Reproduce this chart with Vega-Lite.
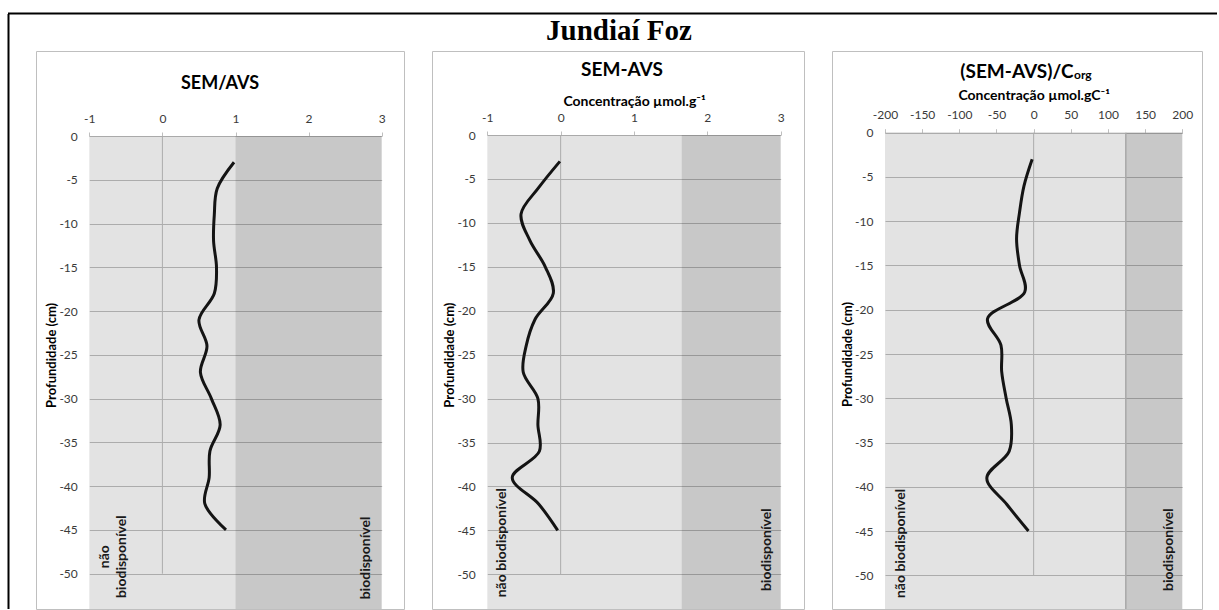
{
  "$schema": "https://vega.github.io/schema/vega-lite/v6.json",
  "background": "white",
  "padding": {"left": 7, "top": 12, "right": 0, "bottom": 0},
  "datasets": {
    "sem_avs": [
      {"profundidade": -3, "valor": 0.98}, {"profundidade": -6, "valor": 0.75}, {"profundidade": -9, "valor": 0.71},
      {"profundidade": -12, "valor": 0.70}, {"profundidade": -15, "valor": 0.74}, {"profundidade": -18, "valor": 0.71},
      {"profundidade": -21, "valor": 0.50}, {"profundidade": -24, "valor": 0.61}, {"profundidade": -27, "valor": 0.52},
      {"profundidade": -30, "valor": 0.67}, {"profundidade": -33, "valor": 0.79}, {"profundidade": -36, "valor": 0.65},
      {"profundidade": -39, "valor": 0.64}, {"profundidade": -42, "valor": 0.58}, {"profundidade": -45, "valor": 0.87}
    ],
    "sem_menos_avs": [
      {"profundidade": -3, "valor": -0.01}, {"profundidade": -6, "valor": -0.30}, {"profundidade": -9, "valor": -0.54},
      {"profundidade": -12, "valor": -0.42}, {"profundidade": -15, "valor": -0.21}, {"profundidade": -18, "valor": -0.10},
      {"profundidade": -21, "valor": -0.35}, {"profundidade": -24, "valor": -0.47}, {"profundidade": -27, "valor": -0.51},
      {"profundidade": -30, "valor": -0.31}, {"profundidade": -33, "valor": -0.31}, {"profundidade": -36, "valor": -0.29},
      {"profundidade": -39, "valor": -0.66}, {"profundidade": -42, "valor": -0.30}, {"profundidade": -45, "valor": -0.04}
    ],
    "sem_avs_corg": [
      {"profundidade": -3, "valor": -2}, {"profundidade": -6, "valor": -13}, {"profundidade": -9, "valor": -19},
      {"profundidade": -12, "valor": -23}, {"profundidade": -15, "valor": -19}, {"profundidade": -18, "valor": -12},
      {"profundidade": -21, "valor": -62}, {"profundidade": -24, "valor": -44}, {"profundidade": -27, "valor": -43},
      {"profundidade": -30, "valor": -37}, {"profundidade": -33, "valor": -30}, {"profundidade": -36, "valor": -33},
      {"profundidade": -39, "valor": -63}, {"profundidade": -42, "valor": -36}, {"profundidade": -45, "valor": -7}
    ],
    "zonas_sem_avs": [
      {"zona": "não biodisponível", "inicio": -1, "fim": 1},
      {"zona": "biodisponível", "inicio": 1, "fim": 3}
    ],
    "zonas_sem_menos_avs": [
      {"zona": "não biodisponível", "inicio": -1, "fim": 1.65},
      {"zona": "biodisponível", "inicio": 1.65, "fim": 3}
    ],
    "zonas_sem_avs_corg": [
      {"zona": "não biodisponível", "inicio": -200, "fim": 124},
      {"zona": "biodisponível", "inicio": 124, "fim": 200}
    ]
  },
  "bounds": "flush",
  "spacing": 0,
  "vconcat": [
    {
      "width": 1209, "height": 1,
      "view": {"stroke": null},
      "data": {"values": [{}]},
      "mark": {"type": "rule", "color": "#000000", "strokeWidth": 2},
      "encoding": {"y": {"datum": 0.5, "scale": {"domain": [0, 1]}, "axis": null}}
    },
    {
      "bounds": "flush",
      "spacing": 27,
      "hconcat": [
        {
          "width": 1, "height": 595,
          "view": {"stroke": null},
          "data": {"values": [{}]},
          "mark": {"type": "rule", "color": "#000000", "strokeWidth": 2},
          "encoding": {"x": {"datum": 0.5, "scale": {"domain": [0, 1]}, "axis": null}}
        },
        {
          "bounds": "flush",
          "spacing": 0,
          "vconcat": [
            {
              "width": 1166, "height": 36.5,
              "view": {"stroke": null},
              "data": {"values": [{"titulo": "Jundiaí Foz"}]},
              "mark": {"type": "text", "font": "Liberation Serif", "fontSize": 29, "fontWeight": "bold", "color": "#000000", "baseline": "alphabetic", "align": "center", "dy": 7.5},
              "encoding": {"text": {"field": "titulo"}}
            },
            {
              "bounds": "flush",
              "spacing": 28,
              "hconcat": [
                {
                  "width": 368, "height": 558,
                  "title": {"text": "SEM/AVS", "font": "Lato", "fontSize": 18, "fontWeight": "bold", "color": "#000000", "baseline": "alphabetic", "anchor": "middle", "offset": -56},
                  "layer": [
                    {
                      "data": {"values": [{}]},
                      "mark": {"type": "rule", "color": "#c2c2c2", "strokeWidth": 1},
                      "encoding": {"x": {"datum": 0}, "y": {"datum": 0}, "y2": {"datum": -50}}
                    },
                    {
                      "data": {"name": "zonas_sem_avs"},
                      "mark": {"type": "rect", "clip": true},
                      "encoding": {
                        "x": {"field": "inicio", "type": "quantitative"},
                        "x2": {"field": "fim"},
                        "y": {"datum": 0},
                        "y2": {"datum": -60},
                        "fill": {"field": "zona", "type": "nominal", "legend": null,
                                 "scale": {"domain": ["não biodisponível", "biodisponível"], "range": ["rgba(0,0,0,0.11)", "rgba(0,0,0,0.215)"]}}
                      }
                    },
                    {
                      "data": {"name": "sem_avs"},
                      "mark": {"type": "line", "color": "#141414", "strokeWidth": 3, "interpolate": "catmull-rom"},
                      "encoding": {
                        "x": {"field": "valor", "type": "quantitative",
                              "scale": {"domain": [-1, 3], "range": [53.3, 345.7], "nice": false, "zero": false},
                              "axis": {"orient": "top", "offset": -85, "values": [-1, 0, 1, 2, 3], "labelExpr": "'' + datum.value", "grid": false, "domainColor": "#bfbfbf", "tickColor": "#bfbfbf", "tickSize": 4, "labelPadding": 7, "labelFlush": false, "labelOverlap": false, "title": null}},
                        "y": {"field": "profundidade", "type": "quantitative",
                              "scale": {"domain": [-50, 0], "range": [522.7, 85], "nice": false, "zero": false},
                              "axis": {"orient": "left", "offset": -53.3, "values": [0, -5, -10, -15, -20, -25, -30, -35, -40, -45, -50], "labelExpr": "'' + datum.value", "grid": true, "gridColor": "#c2c2c2", "domain": false, "ticks": false, "labelPadding": 12, "labelOverlap": false, "title": "Profundidade (cm)", "titlePadding": 0}},
                        "order": {"field": "profundidade", "type": "quantitative"}
                      }
                    },
                    {
                      "data": {"values": [{}]},
                      "mark": {"type": "text", "text": ["não", "biodisponível"], "angle": 270, "align": "center", "baseline": "middle", "lineHeight": 17, "font": "Lato", "fontSize": 14, "fontWeight": "bold", "color": "#1a1a1a"},
                      "encoding": {"x": {"datum": -0.785}, "y": {"datum": -48.06}}
                    },
                    {
                      "data": {"values": [{}]},
                      "mark": {"type": "text", "text": "biodisponível", "angle": 270, "align": "center", "baseline": "middle", "font": "Lato", "fontSize": 14, "fontWeight": "bold", "color": "#1a1a1a"},
                      "encoding": {"x": {"datum": 2.78}, "y": {"datum": -48.2}}
                    }
                  ]
                },
                {
                  "width": 372, "height": 558,
                  "title": {"text": "SEM-AVS", "font": "Lato", "fontSize": 19, "fontWeight": "bold", "color": "#000000", "baseline": "alphabetic", "anchor": "middle", "offset": -44, "dx": 4},
                  "layer": [
                    {
                      "data": {"values": [{}]},
                      "mark": {"type": "rule", "color": "#c2c2c2", "strokeWidth": 1},
                      "encoding": {"x": {"datum": 0}, "y": {"datum": 0}, "y2": {"datum": -50}}
                    },
                    {
                      "data": {"name": "zonas_sem_menos_avs"},
                      "mark": {"type": "rect", "clip": true},
                      "encoding": {
                        "x": {"field": "inicio", "type": "quantitative"},
                        "x2": {"field": "fim"},
                        "y": {"datum": 0},
                        "y2": {"datum": -60},
                        "fill": {"field": "zona", "type": "nominal", "legend": null,
                                 "scale": {"domain": ["não biodisponível", "biodisponível"], "range": ["rgba(0,0,0,0.11)", "rgba(0,0,0,0.215)"]}}
                      }
                    },
                    {
                      "data": {"name": "sem_menos_avs"},
                      "mark": {"type": "line", "color": "#141414", "strokeWidth": 3, "interpolate": "catmull-rom"},
                      "encoding": {
                        "x": {"field": "valor", "type": "quantitative",
                              "scale": {"domain": [-1, 3], "range": [55.3, 348.7], "nice": false, "zero": false},
                              "axis": {"orient": "top", "offset": -84, "values": [-1, 0, 1, 2, 3], "labelExpr": "'' + datum.value", "grid": false, "domainColor": "#bfbfbf", "tickColor": "#bfbfbf", "tickSize": 4, "labelPadding": 7, "labelFlush": false, "labelOverlap": false, "title": "Concentração µmol.g⁻¹", "titleFontSize": 14, "titleY": -30, "titleBaseline": "alphabetic"}},
                        "y": {"field": "profundidade", "type": "quantitative",
                              "scale": {"domain": [-50, 0], "range": [523.3, 84], "nice": false, "zero": false},
                              "axis": {"orient": "left", "offset": -55.3, "values": [0, -5, -10, -15, -20, -25, -30, -35, -40, -45, -50], "labelExpr": "'' + datum.value", "grid": true, "gridColor": "#c2c2c2", "domain": false, "ticks": false, "labelPadding": 12, "labelOverlap": false, "title": "Profundidade (cm)", "titlePadding": 0}},
                        "order": {"field": "profundidade", "type": "quantitative"}
                      }
                    },
                    {
                      "data": {"values": [{}]},
                      "mark": {"type": "text", "text": "não biodisponível", "angle": 270, "align": "center", "baseline": "middle", "font": "Lato", "fontSize": 14, "fontWeight": "bold", "color": "#1a1a1a"},
                      "encoding": {"x": {"datum": -0.80}, "y": {"datum": -46.4}}
                    },
                    {
                      "data": {"values": [{}]},
                      "mark": {"type": "text", "text": "biodisponível", "angle": 270, "align": "center", "baseline": "middle", "font": "Lato", "fontSize": 14, "fontWeight": "bold", "color": "#1a1a1a"},
                      "encoding": {"x": {"datum": 2.81}, "y": {"datum": -47.2}}
                    }
                  ]
                },
                {
                  "width": 370, "height": 558,
                  "title": {"text": "(SEM-AVS)/C", "font": "Lato", "fontSize": 19, "fontWeight": "bold", "color": "#000000", "baseline": "alphabetic", "anchor": "middle", "offset": -46},
                  "layer": [
                    {
                      "data": {"values": [{}]},
                      "mark": {"type": "rule", "color": "#c2c2c2", "strokeWidth": 1},
                      "encoding": {"x": {"datum": 0}, "y": {"datum": 0}, "y2": {"datum": -50}}
                    },
                    {
                      "data": {"name": "zonas_sem_avs_corg"},
                      "mark": {"type": "rect", "clip": true},
                      "encoding": {
                        "x": {"field": "inicio", "type": "quantitative"},
                        "x2": {"field": "fim"},
                        "y": {"datum": 0},
                        "y2": {"datum": -60},
                        "fill": {"field": "zona", "type": "nominal", "legend": null,
                                 "scale": {"domain": ["não biodisponível", "biodisponível"], "range": ["rgba(0,0,0,0.11)", "rgba(0,0,0,0.215)"]}}
                      }
                    },
                    {
                      "data": {"values": [{}]},
                      "mark": {"type": "rule", "color": "#a8a8a8", "strokeWidth": 1.5, "clip": true},
                      "encoding": {"x": {"datum": 124}, "y": {"datum": 0}, "y2": {"datum": -60}}
                    },
                    {
                      "data": {"name": "sem_avs_corg"},
                      "mark": {"type": "line", "color": "#141414", "strokeWidth": 3, "interpolate": "catmull-rom"},
                      "encoding": {
                        "x": {"field": "valor", "type": "quantitative",
                              "scale": {"domain": [-200, 200], "range": [53, 350.3], "nice": false, "zero": false},
                              "axis": {"orient": "top", "offset": -81.7, "values": [-200, -150, -100, -50, 0, 50, 100, 150, 200], "labelExpr": "'' + datum.value", "grid": false, "domainColor": "#bfbfbf", "tickColor": "#bfbfbf", "tickSize": 4, "labelPadding": 7, "labelFlush": false, "labelOverlap": false, "title": "Concentração µmol.gC⁻¹", "titleFontSize": 14, "titleY": -33.4, "titleBaseline": "alphabetic"}},
                        "y": {"field": "profundidade", "type": "quantitative",
                              "scale": {"domain": [-50, 0], "range": [524.3, 81.7], "nice": false, "zero": false},
                              "axis": {"orient": "left", "offset": -53, "values": [0, -5, -10, -15, -20, -25, -30, -35, -40, -45, -50], "labelExpr": "'' + datum.value", "grid": true, "gridColor": "#c2c2c2", "domain": false, "ticks": false, "labelPadding": 12, "labelOverlap": false, "title": "Profundidade (cm)", "titlePadding": 0}},
                        "order": {"field": "profundidade", "type": "quantitative"}
                      }
                    },
                    {
                      "data": {"values": [{}]},
                      "mark": {"type": "text", "text": "org", "align": "left", "baseline": "alphabetic", "font": "Lato", "fontSize": 12, "fontWeight": "bold", "color": "#000000"},
                      "encoding": {"x": {"datum": 54.3}, "y": {"datum": 6.1}}
                    },
                    {
                      "data": {"values": [{}]},
                      "mark": {"type": "text", "text": "não biodisponível", "angle": 270, "align": "center", "baseline": "middle", "font": "Lato", "fontSize": 14, "fontWeight": "bold", "color": "#1a1a1a"},
                      "encoding": {"x": {"datum": -179}, "y": {"datum": -46.4}}
                    },
                    {
                      "data": {"values": [{}]},
                      "mark": {"type": "text", "text": "biodisponível", "angle": 270, "align": "center", "baseline": "middle", "font": "Lato", "fontSize": 14, "fontWeight": "bold", "color": "#1a1a1a"},
                      "encoding": {"x": {"datum": 181.8}, "y": {"datum": -47.1}}
                    }
                  ]
                }
              ]
            }
          ]
        }
      ]
    }
  ],
  "config": {
    "view": {"stroke": "#bfbfbf", "strokeWidth": 1},
    "font": "Lato",
    "axis": {"labelFont": "Lato", "labelFontSize": 12, "labelColor": "#3a3a3a", "titleFont": "Lato", "titleFontSize": 13, "titleFontWeight": "bold", "titleColor": "#000000"},
    "title": {"font": "Lato"}
  }
}
